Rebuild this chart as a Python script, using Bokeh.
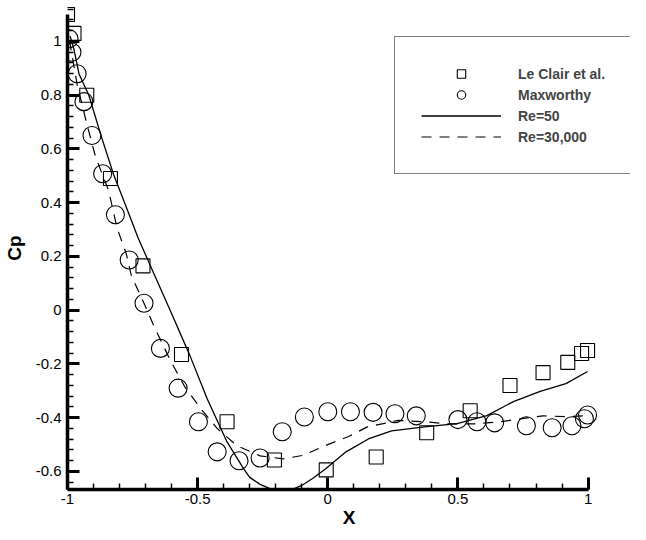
from bokeh.plotting import figure
from bokeh.models import Legend, LegendItem, FixedTicker, CustomJSTickFormatter, Range1d
from bokeh.embed import file_html
from bokeh.resources import INLINE

# Le Clair et al. (squares)
leclair_x = [-1.0, -0.975, -0.926, -0.835, -0.71, -0.562, -0.387, -0.205, -0.006,
             0.186, 0.38, 0.547, 0.70, 0.827, 0.922, 0.975, 0.998]
leclair_y = [1.10, 1.03, 0.80, 0.49, 0.165, -0.165, -0.415, -0.557, -0.594,
             -0.546, -0.456, -0.374, -0.28, -0.232, -0.194, -0.161, -0.15]

# Maxworthy (circles)
maxw_x = [-0.994, -0.983, -0.963, -0.937, -0.906, -0.865, -0.816, -0.763, -0.706,
          -0.643, -0.575, -0.497, -0.425, -0.341, -0.26, -0.175, -0.09, 0.0, 0.087,
          0.174, 0.258, 0.34, 0.5, 0.573, 0.641, 0.763, 0.862, 0.938, 0.986, 0.998]
maxw_y = [1.01, 0.96, 0.88, 0.776, 0.65, 0.508, 0.355, 0.187, 0.026,
          -0.142, -0.29, -0.415, -0.527, -0.56, -0.55, -0.452, -0.397, -0.378, -0.378,
          -0.38, -0.385, -0.393, -0.407, -0.415, -0.419, -0.43, -0.437, -0.43, -0.404, -0.39]

# Re=50 (solid)
re50_x = [-0.99, -0.975, -0.956, -0.918, -0.869, -0.823, -0.778, -0.729, -0.67, -0.604,
          -0.53, -0.463, -0.387, -0.323, -0.30, -0.26, -0.22, -0.18, -0.14, -0.10, -0.057,
          -0.008, 0.07, 0.156, 0.245, 0.372, 0.497, 0.611, 0.713, 0.816, 0.915, 0.998]
re50_y = [1.02, 0.97, 0.88, 0.80, 0.643, 0.505, 0.393, 0.27, 0.14, -0.004,
          -0.168, -0.33, -0.49, -0.59, -0.622, -0.648, -0.665, -0.68, -0.668, -0.652, -0.625,
          -0.59, -0.527, -0.479, -0.449, -0.434, -0.422, -0.392, -0.34, -0.302, -0.273, -0.228]

# Re=30,000 (dashed)
re30k_x = [-1.0, -0.99, -0.963, -0.925, -0.892, -0.842, -0.81, -0.773, -0.755, -0.703,
           -0.664, -0.603, -0.55, -0.488, -0.425, -0.349, -0.26, -0.171, -0.095, 0.0,
           0.08, 0.15, 0.27, 0.372, 0.46, 0.56, 0.664, 0.74, 0.827, 0.915, 0.99]
re30k_y = [1.0, 0.99, 0.84, 0.69, 0.57, 0.445, 0.307, 0.206, 0.13, 0.019,
           -0.067, -0.19, -0.284, -0.366, -0.44, -0.504, -0.542, -0.553, -0.54, -0.50,
           -0.47, -0.435, -0.41, -0.415, -0.423, -0.423, -0.415, -0.404, -0.393, -0.396, -0.393]

x_ticks = [-1, -0.5, 0, 0.5, 1]
x_minor = [round(-1 + 0.1 * i, 2) for i in range(21)]
y_ticks = [-0.6, -0.4, -0.2, 0, 0.2, 0.4, 0.6, 0.8, 1.0]
y_minor = [round(-0.64 + 0.04 * i, 2) for i in range(45)]

p = figure(width=630, height=530, output_backend="svg", toolbar_location=None,
           x_range=Range1d(-1, 1.163), y_range=Range1d(-0.667, 1.13),
           min_border_left=60, min_border_right=0, min_border_top=6, min_border_bottom=20)
p.outline_line_color = None
p.grid.visible = False
p.background_fill_color = "white"

fmt = CustomJSTickFormatter(code="return String(Math.round(tick*100)/100);")

for ax in (p.xaxis[0], p.yaxis[0]):
    ax.axis_line_width = 3.5
    ax.axis_line_color = "black"
    ax.major_tick_in = 12
    ax.major_tick_out = 0
    ax.minor_tick_in = 6
    ax.minor_tick_out = 0
    ax.major_tick_line_width = 3
    ax.minor_tick_line_width = 1.5
    ax.major_tick_line_color = "black"
    ax.minor_tick_line_color = "black"
    ax.major_label_text_font = "Liberation Sans"
    ax.major_label_text_font_size = "15px"
    ax.major_label_text_color = "black"
    ax.axis_label_text_font = "Liberation Sans"
    ax.axis_label_text_font_style = "bold"
    ax.axis_label_text_font_size = "19px"
    ax.axis_label_text_color = "black"
    ax.formatter = fmt

p.xaxis.ticker = FixedTicker(ticks=x_ticks, minor_ticks=x_minor)
p.yaxis.ticker = FixedTicker(ticks=y_ticks, minor_ticks=y_minor)
p.xaxis.bounds = (-1, 1)
p.yaxis.bounds = (-0.7, 1.10)
p.xaxis.axis_label = "X"
p.yaxis.axis_label = "Cp"
p.xaxis.major_label_standoff = 4
p.yaxis.major_label_standoff = 6
p.xaxis.axis_label_standoff = 0
p.yaxis.axis_label_standoff = 8

r50 = p.line(re50_x, re50_y, line_color="black", line_width=1.3)
r30 = p.line(re30k_x, re30k_y, line_color="black", line_width=1.2, line_dash="10 8")
rle = p.scatter(leclair_x, leclair_y, marker="square", size=14, fill_color=None,
                line_color="black", line_width=1.1)
rmx = p.scatter(maxw_x, maxw_y, marker="circle", size=18, fill_color=None,
                line_color="black", line_width=1.1)

legend = Legend(items=[
    LegendItem(label="Le Clair et al.", renderers=[rle]),
    LegendItem(label="Maxworthy", renderers=[rmx]),
    LegendItem(label="Re=50", renderers=[r50]),
    LegendItem(label="Re=30,000", renderers=[r30]),
], location=(327, 315), border_line_color="black", border_line_width=1,
    padding=26, spacing=0, glyph_width=80, glyph_height=21, label_height=21,
    label_width=95, label_standoff=17, label_text_font="Liberation Sans",
    label_text_font_style="bold", label_text_font_size="14px",
    background_fill_color="white", background_fill_alpha=1, margin=0)
p.add_layout(legend)

open("out.html", "w").write(file_html(p, INLINE))
